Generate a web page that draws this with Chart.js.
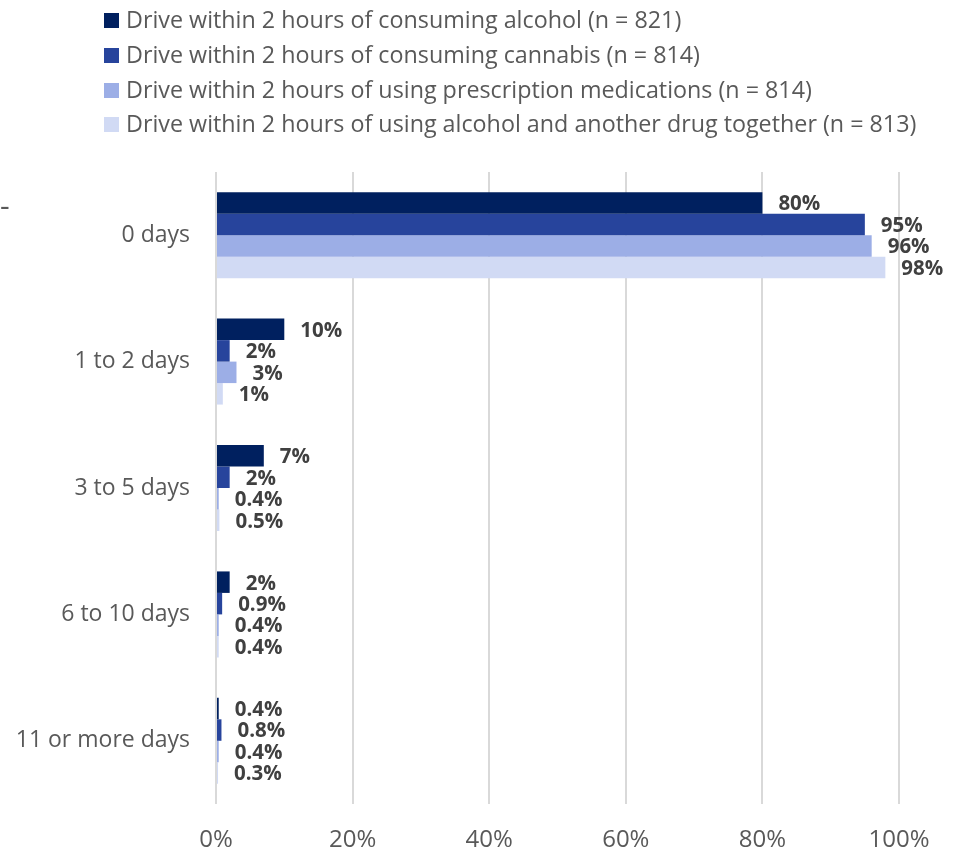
<!DOCTYPE html>
<html>
<head>
<meta charset="utf-8">
<script src="https://cdn.jsdelivr.net/npm/chart.js@4"></script>
<style>
  html, body { margin: 0; padding: 0; background: #fff; }
  #wrap { position: relative; width: 957px; height: 849px; }
  #legend { position: absolute; left: 104px; top: 2px; font-family: "Open Sans", sans-serif; font-size: 23.3px; color: #595959; }
  #legend div { height: 34.8px; line-height: 34.8px; white-space: nowrap; }
  #legend span.box { display: inline-block; width: 15px; height: 15px; margin-right: 7px; vertical-align: 0px; }
  #dash { position: absolute; left: 0px; top: 184px; font-family: "Open Sans", sans-serif; font-size: 30px; color: #595959; }
</style>
</head>
<body>
<div id="wrap">
  <canvas id="myCanvas" width="957" height="849"></canvas>
  <div id="legend"></div>
  <div id="dash">-</div>
</div>
<script>
const categories = ['0 days', '1 to 2 days', '3 to 5 days', '6 to 10 days', '11 or more days'];
const seriesNames = [
  'Drive within 2 hours of consuming alcohol (n = 821)',
  'Drive within 2 hours of consuming cannabis (n = 814)',
  'Drive within 2 hours of using prescription medications (n = 814)',
  'Drive within 2 hours of using alcohol and another drug together (n = 813)'
];
const alcohol = [80, 10, 7, 2, 0.4];
const cannabis = [95, 2, 2, 0.9, 0.8];
const prescription = [96, 3, 0.4, 0.4, 0.4];
const combined = [98, 1, 0.5, 0.4, 0.3];
const xTicks = [0, 20, 40, 60, 80, 100];

const colors = ['#00205f', '#27449c', '#9caee6', '#d1daf4'];
const font = '"Open Sans", sans-serif';

// value labels just past the end of each bar
const barLabels = {
    id: 'barLabels',
    afterDatasetsDraw(chart) {
        const ctx = chart.ctx;
        ctx.save();
        ctx.font = 'bold 20.5px ' + font;
        ctx.fillStyle = '#404040';
        ctx.textBaseline = 'middle';
        ctx.textAlign = 'left';
        chart.data.datasets.forEach((ds, i) => {
            chart.getDatasetMeta(i).data.forEach((bar, j) => {
                ctx.fillText(ds.data[j] + '%', bar.x + 16, bar.y + 1.5);
            });
        });
        ctx.restore();
    }
};

const ctx = document.getElementById('myCanvas').getContext('2d');

let chart = new Chart(ctx, {
    type: 'bar',
    data: {
        labels: categories,
        datasets: [alcohol, cannabis, prescription, combined].map((d, i) => ({
            label: seriesNames[i],
            data: d,
            backgroundColor: colors[i],
            borderWidth: 0,
            categoryPercentage: 0.68,
            barPercentage: 1
        }))
    },
    options: {
        indexAxis: 'y',
        responsive: false,
        animation: false,
        layout: { padding: { top: 172, right: 58, left: 0, bottom: 0 } },
        scales: {
            x: {
                min: 0,
                max: 100,
                afterBuildTicks: (scale) => { scale.ticks = xTicks.map(v => ({ value: v })); },
                afterFit: (scale) => { scale.height = 45; },
                grid: { color: '#d9d9d9', lineWidth: 2, drawTicks: false },
                border: { display: false },
                ticks: {
                    padding: 22,
                    color: '#595959',
                    font: { family: font, size: 24 },
                    callback: (v) => v + '%'
                }
            },
            y: {
                afterFit: (scale) => { scale.width = 216; },
                grid: { display: false },
                border: { display: false },
                ticks: {
                    padding: 18,
                    color: '#595959',
                    font: { family: font, size: 23 }
                }
            }
        },
        plugins: {
            legend: { display: false },
            tooltip: { enabled: false }
        }
    },
    plugins: [barLabels]
});

// legend rows built from the datasets
const legend = document.getElementById('legend');
legend.innerHTML = chart.data.datasets.map(ds =>
    `<div><span class="box" style="background:${ds.backgroundColor}"></span>${ds.label}</div>`
).join('');
</script>
</body>
</html>
